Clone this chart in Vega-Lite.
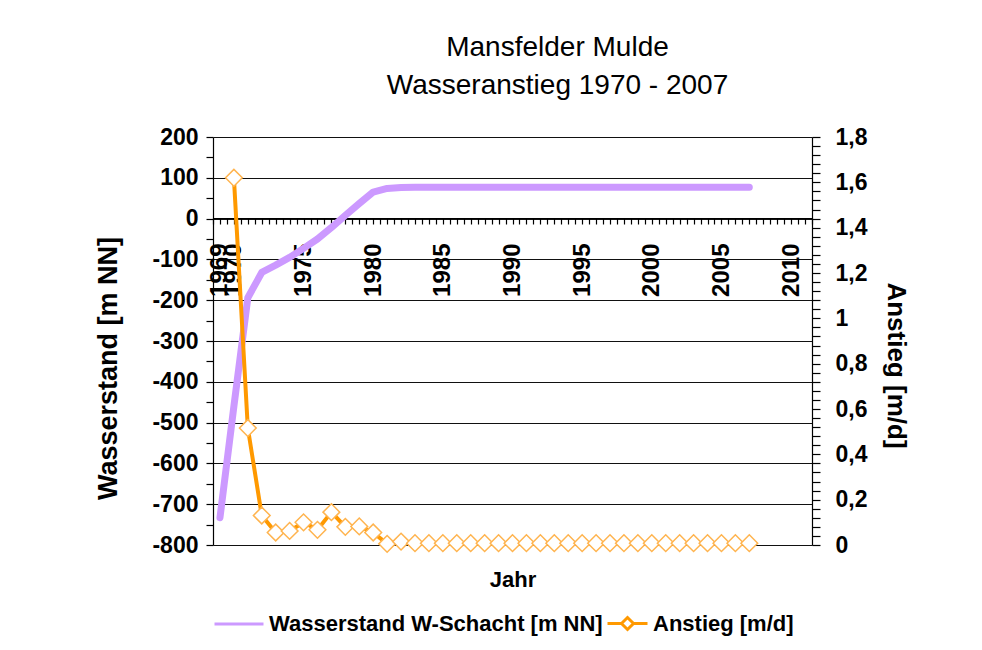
{
  "$schema": "https://vega.github.io/schema/vega-lite/v6.json",
  "width": 599,
  "height": 408,
  "autosize": {"type": "none"},
  "padding": {"left": 213, "top": 137, "right": 170, "bottom": 105},
  "background": "white",
  "title": {
    "text": ["Mansfelder Mulde", "Wasseranstieg 1970 - 2007"],
    "font": "Liberation Sans",
    "fontSize": 28,
    "fontWeight": "normal",
    "color": "black",
    "lineHeight": 38,
    "anchor": "middle",
    "dx": 45,
    "offset": 26
  },
  "config": {
    "view": {"stroke": null},
    "axis": {
      "labelFont": "Liberation Sans",
      "labelFontWeight": "bold",
      "labelColor": "black",
      "titleFont": "Liberation Sans",
      "titleFontWeight": "bold",
      "titleColor": "black",
      "domainColor": "black",
      "domainWidth": 1.2,
      "tickColor": "black",
      "tickWidth": 1.2
    },
    "legend": {
      "labelFont": "Liberation Sans",
      "labelFontWeight": "bold",
      "labelFontSize": 22,
      "labelColor": "black",
      "labelLimit": 600,
      "padding": 0,
      "labelOffset": 4
    }
  },
  "data": {
    "values": [
      {"year": 1969, "wasserstand": -733, "anstieg": null},
      {"year": 1970, "wasserstand": -460, "anstieg": 1.62},
      {"year": 1971, "wasserstand": -194, "anstieg": 0.516},
      {"year": 1972, "wasserstand": -132, "anstieg": 0.13},
      {"year": 1973, "wasserstand": -114, "anstieg": 0.055},
      {"year": 1974, "wasserstand": -95, "anstieg": 0.062},
      {"year": 1975, "wasserstand": -73, "anstieg": 0.1},
      {"year": 1976, "wasserstand": -50, "anstieg": 0.067},
      {"year": 1977, "wasserstand": -22, "anstieg": 0.145},
      {"year": 1978, "wasserstand": 8, "anstieg": 0.08},
      {"year": 1979, "wasserstand": 37, "anstieg": 0.082},
      {"year": 1980, "wasserstand": 65, "anstieg": 0.055},
      {"year": 1981, "wasserstand": 74, "anstieg": 0.005},
      {"year": 1982, "wasserstand": 76, "anstieg": 0.015},
      {"year": 1983, "wasserstand": 77, "anstieg": 0.008},
      {"year": 1984, "wasserstand": 77, "anstieg": 0.008},
      {"year": 1985, "wasserstand": 77, "anstieg": 0.008},
      {"year": 1986, "wasserstand": 77, "anstieg": 0.008},
      {"year": 1987, "wasserstand": 77, "anstieg": 0.008},
      {"year": 1988, "wasserstand": 77, "anstieg": 0.008},
      {"year": 1989, "wasserstand": 77, "anstieg": 0.008},
      {"year": 1990, "wasserstand": 77, "anstieg": 0.008},
      {"year": 1991, "wasserstand": 77, "anstieg": 0.008},
      {"year": 1992, "wasserstand": 77, "anstieg": 0.008},
      {"year": 1993, "wasserstand": 77, "anstieg": 0.008},
      {"year": 1994, "wasserstand": 77, "anstieg": 0.008},
      {"year": 1995, "wasserstand": 77, "anstieg": 0.008},
      {"year": 1996, "wasserstand": 77, "anstieg": 0.008},
      {"year": 1997, "wasserstand": 77, "anstieg": 0.008},
      {"year": 1998, "wasserstand": 77, "anstieg": 0.008},
      {"year": 1999, "wasserstand": 77, "anstieg": 0.008},
      {"year": 2000, "wasserstand": 77, "anstieg": 0.008},
      {"year": 2001, "wasserstand": 77, "anstieg": 0.008},
      {"year": 2002, "wasserstand": 77, "anstieg": 0.008},
      {"year": 2003, "wasserstand": 77, "anstieg": 0.008},
      {"year": 2004, "wasserstand": 77, "anstieg": 0.008},
      {"year": 2005, "wasserstand": 77, "anstieg": 0.008},
      {"year": 2006, "wasserstand": 77, "anstieg": 0.008},
      {"year": 2007, "wasserstand": 77, "anstieg": 0.008}
    ]
  },
  "encoding": {
    "x": {
      "field": "year",
      "type": "quantitative",
      "scale": {"domain": [1968.5, 2011.5], "nice": false, "zero": false},
      "axis": {
        "title": "Jahr",
        "titleFontSize": 22,
        "titlePadding": 0,
        "titleY": 351,
        "orient": "bottom",
        "offset": -327,
        "values": [1968.5,1969,1969.5,1970,1970.5,1971,1971.5,1972,1972.5,1973,1973.5,1974,1974.5,1975,1975.5,1976,1976.5,1977,1977.5,1978,1978.5,1979,1979.5,1980,1980.5,1981,1981.5,1982,1982.5,1983,1983.5,1984,1984.5,1985,1985.5,1986,1986.5,1987,1987.5,1988,1988.5,1989,1989.5,1990,1990.5,1991,1991.5,1992,1992.5,1993,1993.5,1994,1994.5,1995,1995.5,1996,1996.5,1997,1997.5,1998,1998.5,1999,1999.5,2000,2000.5,2001,2001.5,2002,2002.5,2003,2003.5,2004,2004.5,2005,2005.5,2006,2006.5,2007,2007.5,2008,2008.5,2009,2009.5,2010,2010.5,2011,2011.5],
        "labelExpr": "(datum.value === 1969 || datum.value % 5 === 0) ? '' + datum.value : ''",
        "labelAngle": 270,
        "labelAlign": "right",
        "labelBaseline": "middle",
        "labelFontSize": 24,
        "labelPadding": 19,
        "labelOverlap": false,
        "labelDx": 2,
        "tickSize": 6,
        "grid": false
      }
    }
  },
  "layer": [
    {
      "mark": {"type": "line", "strokeWidth": 7, "strokeCap": "round", "strokeJoin": "round"},
      "encoding": {
        "y": {
          "field": "wasserstand",
          "type": "quantitative",
          "scale": {"domain": [-800, 200], "nice": false, "zero": false},
          "axis": {
            "title": "Wasserstand [m NN]",
            "titleFontSize": 27,
            "titlePadding": 29,
            "titleY": 231,
            "orient": "left",
            "values": [-800,-750,-700,-650,-600,-550,-500,-450,-400,-350,-300,-250,-200,-150,-100,-50,0,50,100,150,200],
            "labelExpr": "datum.value % 100 === 0 ? '' + datum.value : ''",
            "labelFontSize": 23,
            "labelPadding": 8,
            "labelOverlap": false,
            "tickSize": 7,
            "grid": true,
            "gridColor": "#111111",
            "gridWidth": 1.2,
            "gridOpacity": {"condition": {"test": "datum.value % 100 === 0", "value": 1}, "value": 0}
          }
        },
        "stroke": {
          "datum": "Wasserstand W-Schacht [m NN]",
          "scale": {"range": ["#CC99FF"]},
          "legend": {
            "title": null,
            "orient": "none",
            "legendX": 0,
            "legendY": 461,
            "symbolType": "stroke",
            "symbolSize": 2400,
            "symbolStrokeWidth": 3
          }
        }
      }
    },
    {
      "mark": {"type": "line", "strokeWidth": 4, "strokeJoin": "round"},
      "encoding": {
        "y": {
          "field": "anstieg",
          "type": "quantitative",
          "scale": {"domain": [0, 1.8], "nice": false, "zero": false},
          "axis": {
            "title": "Anstieg [m/d]",
            "titleFontSize": 26,
            "titlePadding": 16,
            "titleY": 228,
            "orient": "right",
            "values": [0,0.04,0.08,0.12,0.16,0.2,0.24,0.28,0.32,0.36,0.4,0.44,0.48,0.52,0.56,0.6,0.64,0.68,0.72,0.76,0.8,0.84,0.88,0.92,0.96,1,1.04,1.08,1.12,1.16,1.2,1.24,1.28,1.32,1.36,1.4,1.44,1.48,1.52,1.56,1.6,1.64,1.68,1.72,1.76,1.8],
            "labelExpr": "abs(datum.value * 5 - round(datum.value * 5)) < 0.001 ? replace(format(datum.value, '.1~f'), '.', ',') : ''",
            "labelFontSize": 23,
            "labelPadding": 15,
            "labelOverlap": false,
            "tickSize": 8,
            "grid": false
          }
        },
        "stroke": {
          "datum": "Anstieg [m/d]",
          "scale": {"range": ["#FF9900"]},
          "legend": {
            "title": null,
            "orient": "none",
            "legendX": 393,
            "legendY": 465,
            "symbolType": "M-1,0L-0.3,0M0.3,0L1,0M-0.3,0L0,-0.3L0.3,0L0,0.3Z",
            "symbolSize": 1600,
            "symbolStrokeWidth": 3,
            "encode": {"symbols": {"update": {"fill": {"value": "white"}}}}
          }
        }
      }
    },
    {
      "mark": {"type": "point", "shape": "diamond", "size": 280, "filled": true, "fill": "white", "stroke": "#FFB44F", "strokeWidth": 1.5, "opacity": 1},
      "encoding": {
        "y": {
          "field": "anstieg",
          "type": "quantitative",
          "scale": {"domain": [0, 1.8], "nice": false, "zero": false},
          "axis": null
        }
      }
    }
  ],
  "resolve": {
    "scale": {"y": "independent", "stroke": "independent"},
    "axis": {"y": "independent"},
    "legend": {"stroke": "independent"}
  }
}
